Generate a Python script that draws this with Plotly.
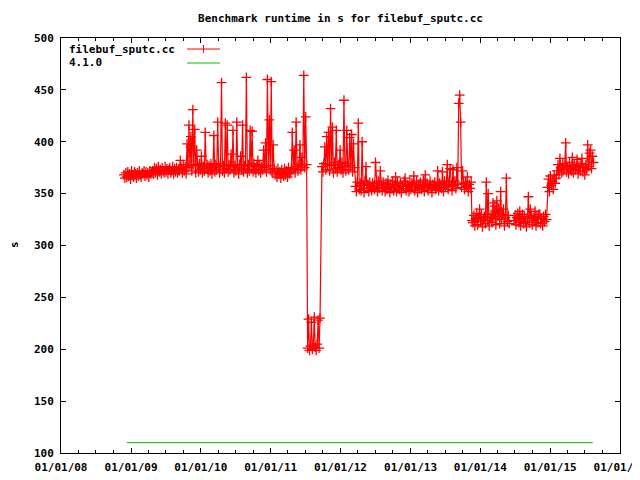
import pandas as pd
import plotly.graph_objects as go

# ---- data (runtime in s, one sample every 5 days per segment) ----
seg_a_start = "2008-11-25"
seg_a_values = [
    368, 365, 370, 366, 371, 367, 369, 364, 372, 368, 366, 371, 369, 365, 370, 367, 372, 368, 366, 370,
    369, 372, 367, 371, 368, 370, 366, 372, 369, 371,
    372, 369, 375, 370, 374, 368, 376, 371, 373, 369, 375, 372, 370, 376, 371, 374, 369, 373, 375, 370,
    372, 376, 369, 374, 371, 375, 370, 373, 372,
    382, 374, 370, 378, 372, 376, 369,
    398, 375, 416, 377, 405, 372, 431, 378, 412, 370, 392,
    377, 371, 379, 373, 386, 370, 376, 372, 409,
    374, 378, 370, 377, 372, 379, 369, 375, 406,
    371, 378, 373, 419, 376, 370, 379, 457,
    372, 377, 370, 418, 374, 416,
    371, 378, 373, 388, 376, 411,
    370, 377, 372, 419, 375, 369, 378, 386, 373, 416,
    371, 377, 374, 462, 370, 378, 372, 411, 376, 410,
    371, 379, 373, 370, 377, 382, 372, 378, 370, 376, 373,
    392, 375, 399, 371, 460, 377, 421, 373, 458, 370, 397, 374,
    368, 372, 366, 374, 369, 371, 365, 373, 370, 367, 374, 368, 372, 366, 375, 369, 371, 373,
    409, 374, 392, 370, 419, 376, 372, 378, 397, 373, 385, 377, 464, 375, 424, 378,
]
seg_b_start = "2011-07-13"
seg_b_values = [201, 229, 199, 203, 226, 200, 204, 231, 202, 199, 205, 228, 201, 230]
seg_c_start = "2011-09-26"
seg_c_values = [376, 371, 379, 395, 373, 405, 378, 409, 372, 432, 377, 414, 370, 380, 374, 411,
                371, 378, 375, 392, 373, 380, 370, 440, 376, 372, 411, 379, 373, 404, 377, 407,
                371, 398, 375]
seg_d_start = "2012-03-19"
seg_d_values = [
    357, 352, 361, 418, 354, 360, 353, 400, 358, 351,
    362, 376, 355, 359, 352, 361, 356, 353, 360, 357,
    354, 380, 358, 352, 362, 355, 372, 359, 353, 361,
    356, 352, 360, 354, 363, 357, 351, 359, 355, 362,
    353, 358, 366, 352, 361, 356, 354, 360, 351, 358,
    355, 362, 365, 353, 359, 357, 352, 361, 354, 360,
    358, 367, 353, 356, 362, 351, 359, 355, 361, 354,
    357, 363, 352, 368, 356, 360, 353, 358, 362, 355,
    351, 359, 357, 361, 354, 356, 372, 353, 360, 358,
    355, 371, 352, 362, 356, 359, 378, 354, 361, 374,
    357, 353, 373, 358, 362, 355, 375, 359, 437, 445,
    419, 356, 372, 360, 354, 361, 357, 366, 352, 359,
    355, 361,
]
seg_e_start = "2013-11-18"
seg_e_values = [
    324, 322, 329, 319, 326, 331, 320, 327, 335, 323,
    330, 318, 325, 328, 321, 361, 324, 350, 319, 327,
    330, 322, 341, 326, 338, 320, 343, 328, 336, 321,
    352, 325, 330, 335, 319, 327, 365, 323, 329, 321,
]
seg_f_start = "2014-06-26"
seg_f_values = [
    324, 329, 320, 327, 331, 322, 333, 319, 326, 330,
    321, 328, 323, 318, 326, 347, 322, 335, 329, 320,
    327, 324, 333, 319, 328, 322, 330, 330, 321, 326,
    319, 328, 323, 330, 325,
    356, 364, 352, 367, 358, 362, 354, 368, 360, 365,
    372, 378, 368, 384, 375, 370, 379, 373, 377, 399,
    371, 376, 369, 380, 374, 372, 385, 370, 378, 373,
    376, 383, 369, 377, 372, 379, 384, 371, 375, 368,
    378, 373, 397, 376, 389, 392, 374, 386, 380,
]
sample_step_days = 5

ref_dates = ["2008-12-10", "2015-08-12"]
ref_values = [110, 110]

series_name = "filebuf_sputc.cc"
ref_name = "4.1.0"
title_text = "Benchmark runtime in s for filebuf_sputc.cc"
y_label = "s"

# ---- build the series ----
def seg(start, vals):
    d = pd.date_range(start=start, periods=len(vals), freq=f"{sample_step_days}D")
    return list(d), list(vals)

xs, ys = [], []
segments = [(seg_a_start, seg_a_values), (seg_b_start, seg_b_values),
            (seg_c_start, seg_c_values), (seg_d_start, seg_d_values),
            (seg_e_start, seg_e_values), (seg_f_start, seg_f_values)]
for i, (s, v) in enumerate(segments):
    d, vv = seg(s, v)
    if i == 5:  # gap in the data before the last segment
        xs.append(None)
        ys.append(None)
    xs += d
    ys += vv

RED = "#ff0000"
GREEN = "#00c000"
FONT = dict(family="DejaVu Sans Mono", size=11, color="black", weight="bold")

fig = go.Figure()
fig.add_trace(go.Scatter(x=xs, y=ys, mode="lines+markers", name=series_name,
                         line=dict(color=RED, width=1.2),
                         marker=dict(symbol="cross-thin-open", size=7,
                                     line=dict(color=RED, width=1.3), color=RED),
                         connectgaps=False, showlegend=False))
fig.add_trace(go.Scatter(x=ref_dates, y=ref_values, mode="lines", name=ref_name,
                         line=dict(color=GREEN, width=1), showlegend=False))

# page offset (the page body has an 8px margin)
OFF = 8
W, H = 640, 480
# plot area in page pixels: x 61..620, y 38..453
PL, PR, PT, PB = 61, 620, 38, 453
L, T = PL - OFF, PT - OFF
R, B = W - (PR - OFF), H - (PB - OFF)
pw, ph = PR - PL, PB - PT

def px_x(px):
    return (px - PL) / pw

def px_y(py):
    return 1 - (py - PT) / ph

fig.update_layout(
    width=W, height=H,
    margin=dict(l=L, r=R, t=T, b=B, autoexpand=False),
    paper_bgcolor="white", plot_bgcolor="white",
    font=FONT,
    title=dict(text=title_text, x=0.5, xref="paper", y=1 - (18 - OFF) / H, yanchor="middle",
               xanchor="center", font=FONT),
    showlegend=False,
)
fig.update_xaxes(
    type="date", range=["2008-01-01", "2016-01-01"], automargin=False,
    tickformat="%m/%d/%y", tick0="2008-01-01", dtick="M12",
    ticks="inside", ticklen=5, tickwidth=1, tickcolor="black", ticklabelstandoff=4,
    minor=dict(dtick="M3", ticks="inside", ticklen=3, tickwidth=1, tickcolor="black", showgrid=False),
    showline=True, linecolor="black", linewidth=1, mirror="allticks",
    showgrid=False, zeroline=False, tickfont=FONT,
)
fig.update_yaxes(
    range=[100, 500], dtick=50, tick0=100, automargin=False,
    ticks="inside", ticklen=5, tickwidth=1, tickcolor="black", ticklabelstandoff=4,
    showline=True, linecolor="black", linewidth=1, mirror="allticks",
    showgrid=False, zeroline=False, tickfont=FONT,
)

# y axis label
fig.add_annotation(text=y_label, xref="paper", yref="paper", x=px_x(14), y=px_y(245),
                   showarrow=False, textangle=-90, font=FONT, xanchor="center", yanchor="middle")

# legend (gnuplot style: text left, sample right)
legend_rows = [(series_name, RED, 49), (ref_name, GREEN, 63)]
for name, col, py in legend_rows:
    fig.add_annotation(text=name, xref="paper", yref="paper", x=px_x(67), y=px_y(py),
                       showarrow=False, xanchor="left", yanchor="middle", font=FONT)
    fig.add_shape(type="line", xref="paper", yref="paper", x0=px_x(187), x1=px_x(220),
                  y0=px_y(py), y1=px_y(py), line=dict(color=col, width=1))
fig.add_shape(type="line", xref="paper", yref="paper", x0=px_x(203.5), x1=px_x(203.5),
              y0=px_y(45), y1=px_y(53), line=dict(color=RED, width=1))

fig.write_html("out.html")
